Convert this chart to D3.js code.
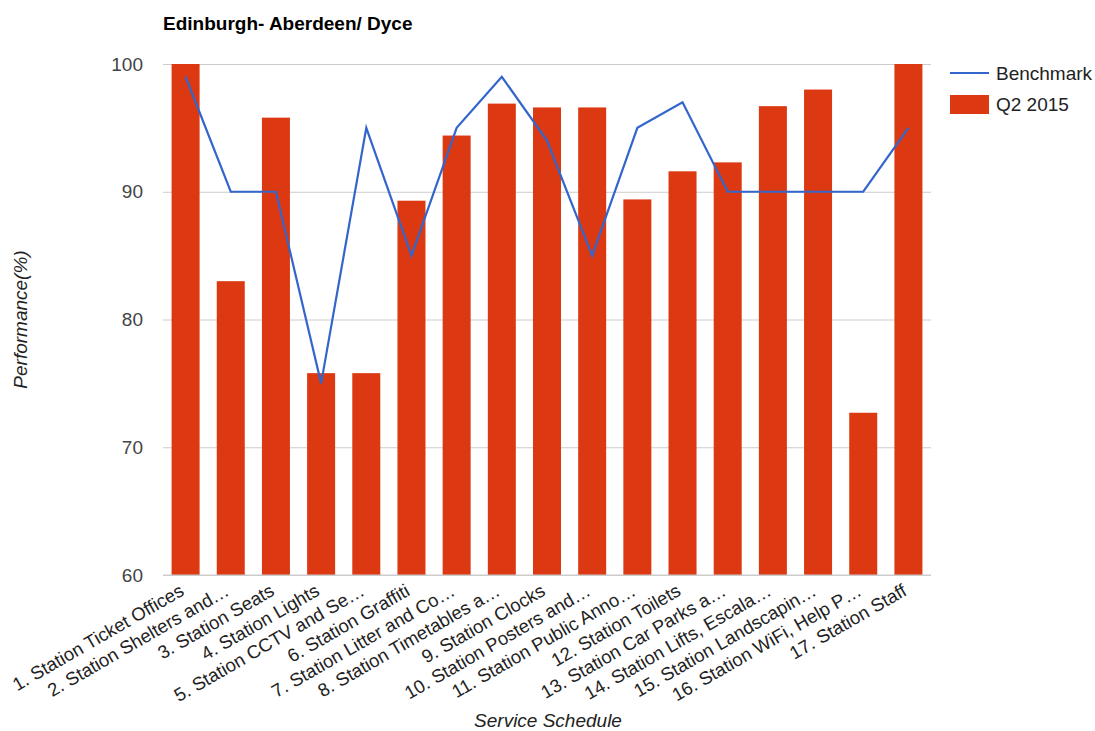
<!DOCTYPE html>
<html>
<head>
<meta charset="utf-8">
<script src="https://cdn.jsdelivr.net/npm/d3@7"></script>
<style>
  body { margin: 0; background: #fff; }
  svg { font-family: Arial, "Liberation Sans", sans-serif; }
</style>
</head>
<body>
<svg width="1095" height="731"></svg>
<script>
  const categories = [
    '1. Station Ticket Offices', '2. Station Shelters and…', '3. Station Seats',
    '4. Station Lights', '5. Station CCTV and Se…', '6. Station Graffiti',
    '7. Station Litter and Co…', '8. Station Timetables a…', '9. Station Clocks',
    '10. Station Posters and…', '11. Station Public Anno…', '12. Station Toilets',
    '13. Station Car Parks a…', '14. Station Lifts, Escala…', '15. Station Landscapin…',
    '16. Station WiFi, Help P…', '17. Station Staff'
  ];
  const q2Values = [100, 83.0, 95.8, 75.8, 75.8, 89.3, 94.4, 96.9, 96.6, 96.6, 89.4, 91.6, 92.3, 96.7, 98.0, 72.7, 100];
  const benchmark = [99, 90, 90, 75, 95, 85, 95, 99, 94, 85, 95, 97, 90, 90, 90, 90, 95];
  const yTicks = [60, 70, 80, 90, 100];

  const svg = d3.select('svg');
  const plotLeft = 163, plotRight = 931, plotTop = 64, plotBottom = 575;
  const fs = 19;

  const x = d3.scaleBand()
    .domain(categories)
    .range([plotLeft, plotRight])
    .paddingInner(0.38)
    .paddingOuter(0.19);
  const y = d3.scaleLinear().domain([60, 100]).range([plotBottom, plotTop]);

  // title
  svg.append('text')
    .attr('x', plotLeft).attr('y', 30)
    .attr('font-size', 19).attr('font-weight', 'bold').attr('fill', '#000')
    .text('Edinburgh- Aberdeen/ Dyce');

  // grid + y labels
  const yAxis = d3.axisLeft(y).tickValues(yTicks).tickSize(-(plotRight - plotLeft)).tickPadding(20);
  const yg = svg.append('g').attr('transform', `translate(${plotLeft},0)`).call(yAxis);
  yg.select('.domain').remove();
  yg.selectAll('.tick line').attr('stroke', '#ccc').attr('stroke-width', 1);
  yg.selectAll('.tick text').attr('font-size', fs).attr('fill', '#444')
    .attr('font-family', 'Arial, "Liberation Sans", sans-serif');

  // bars
  svg.append('g').selectAll('rect').data(q2Values)
    .enter().append('rect')
    .attr('x', (d, i) => x(categories[i]))
    .attr('y', d => y(d))
    .attr('width', x.bandwidth())
    .attr('height', d => y(60) - y(d))
    .attr('fill', '#dc3912');

  // baseline over bars
  svg.append('line')
    .attr('x1', plotLeft).attr('x2', plotRight)
    .attr('y1', y(60)).attr('y2', y(60))
    .attr('stroke', '#ccc');

  // benchmark line
  const line = d3.line()
    .x((d, i) => x(categories[i]) + x.bandwidth() / 2)
    .y(d => y(d));
  svg.append('path')
    .datum(benchmark)
    .attr('d', line)
    .attr('fill', 'none')
    .attr('stroke', '#3366cc')
    .attr('stroke-width', 2.2);

  // x labels
  svg.append('g').selectAll('text').data(categories)
    .enter().append('text')
    .attr('transform', d => `translate(${x(d) + x.bandwidth() / 2 - 7},${plotBottom + 8}) rotate(-30)`)
    .attr('text-anchor', 'end')
    .attr('dy', '0.71em')
    .attr('font-size', 18.5).attr('fill', '#222')
    .text(d => d);

  // axis titles
  svg.append('text')
    .attr('x', 548).attr('y', 727)
    .attr('text-anchor', 'middle')
    .attr('font-size', fs).attr('font-style', 'italic').attr('fill', '#222')
    .text('Service Schedule');
  svg.append('text')
    .attr('transform', `translate(27,${(plotTop + plotBottom) / 2}) rotate(-90)`)
    .attr('text-anchor', 'middle')
    .attr('font-size', fs).attr('font-style', 'italic').attr('fill', '#222')
    .text('Performance(%)');

  // legend
  const legend = svg.append('g').attr('transform', 'translate(950,73)');
  legend.append('line').attr('x1', 0).attr('x2', 39).attr('y1', 0).attr('y2', 0)
    .attr('stroke', '#3366cc').attr('stroke-width', 2.2);
  legend.append('text').attr('x', 46).attr('y', 7).attr('font-size', fs).attr('fill', '#222').text('Benchmark');
  legend.append('rect').attr('x', 0).attr('y', 22).attr('width', 39).attr('height', 19).attr('fill', '#dc3912');
  legend.append('text').attr('x', 46).attr('y', 38).attr('font-size', fs).attr('fill', '#222').text('Q2 2015');
</script>
</body>
</html>
